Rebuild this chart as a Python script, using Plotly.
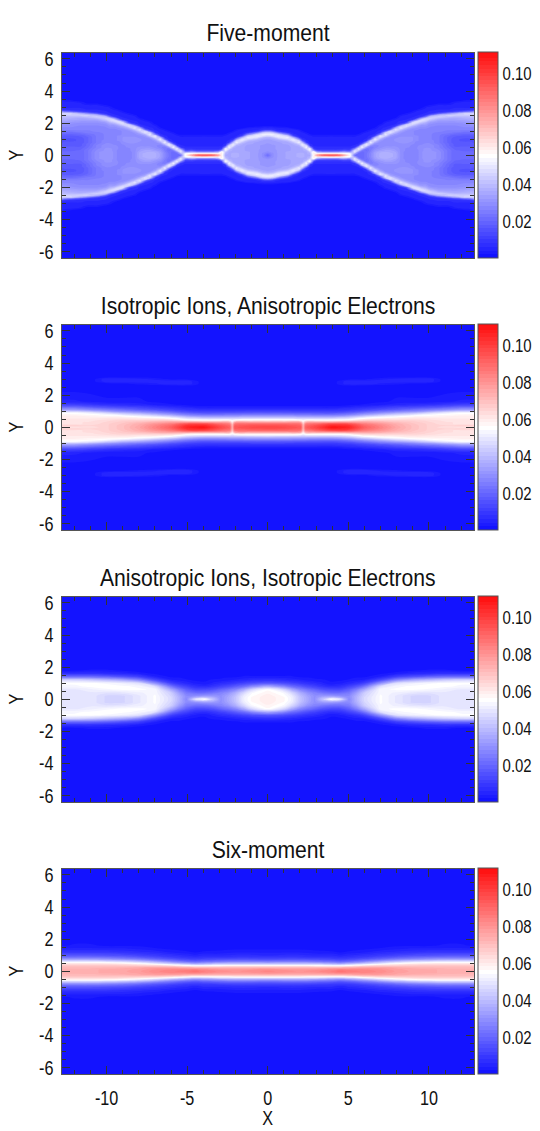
import plotly.graph_objects as go

W, H = 540, 1131
FONT = "Liberation Sans, Arial"
INK = "#111111"
TITLES = ["Five-moment", "Isotropic Ions, Anisotropic Electrons",
          "Anisotropic Ions, Isotropic Electrons", "Six-moment"]
TOPS = [52.5, 324.5, 596.5, 868.5]
PANEL_H = 205.5
CBAR_TICKS = [0.02, 0.04, 0.06, 0.08, 0.10]
X_TICKS = [-10, -5, 0, 5, 10]
Y_TICKS = [-6, -4, -2, 0, 2, 4, 6]

# Values in units of 0.001, one list per x station (x >= 0), from y = 0 upward; quadrant.
x1 = [0, .3, .65, 1.25, 1.6, 1.95, 2.15, 2.4, 2.62, 2.85, 3.05, 3.4, 3.9, 4.4, 4.7, 5.1, 5.4, 5.63, 5.85, 6.12, 6.38,
      6.65, 6.97, 7.3, 7.62, 7.92, 8.25, 8.62, 8.95, 9.2, 9.52, 9.8, 10.04, 10.6, 11.2, 11.6, 12.2, 12.6, 12.8]
y1 = [i / 10 for i in range(37)] + [6.4]
z1 = [
 [22,26,30,31,31,31,32,32,33,33,35,38,46,52,46,24,8,6,3,1],
 [30,30,31,31,32,32,32,33,33,34,36,40,49,52,42,20,8,6,3,1],
 [33,33,33,33,33,33,33,34,34,36,40,48,52,46,26,9,6,5,2,1],
 [35,35,35,34,34,34,34,35,36,40,47,52,44,24,9,6,6,4,1],
 [36,36,35,35,35,35,36,37,42,50,50,36,14,7,6,6,5,2,1],
 [37,37,36,36,36,36,38,44,52,46,28,10,6,6,6,5,3,1],
 [37,37,36,36,36,40,50,50,38,18,9,6,6,6,5,3,1],
 [36,36,36,38,46,54,46,26,10,7,6,6,6,5,3,1],
 [36,38,42,52,54,30,10,7,6,6,6,6,5,3,1],
 [58,60,58,30,12,8,6,6,6,6,6,5,4,2,1],
 [78,58,36,14,8,7,6,6,6,6,6,5,4,2,1],
 [92,58,28,12,8,7,6,6,6,6,6,5,4,2,1],
 [96,60,26,12,8,7,6,6,6,6,6,6,4,2,1],
 [92,58,28,12,8,7,6,6,6,6,6,5,4,2,1],
 [78,56,34,15,9,7,6,6,6,6,6,5,4,2,1],
 [58,54,30,14,9,7,6,6,6,6,6,5,4,2,1],
 [22,34,50,48,26,10,7,6,6,6,6,5,4,2,1],
 [21,22,28,44,52,34,12,7,6,6,6,6,5,3,1],
 [21,21,22,26,40,54,44,18,8,6,6,6,6,5,3,1],
 [24,24,23,22,24,34,50,50,28,9,7,6,6,6,5,3,1],
 [28,28,27,26,25,25,31,42,52,42,18,8,7,6,6,5,3,1],
 [34,34,33,31,29,27,27,30,36,46,52,36,12,7,6,6,5,3,1],
 [37,37,36,33,31,30,29,29,30,32,38,48,50,24,9,7,6,6,5,3,1],
 [38,38,37,35,33,31,30,30,29,29,30,34,44,51,44,18,8,7,6,6,5,3,1],
 [37,37,36,35,33,31,30,30,30,29,29,30,32,38,49,47,20,9,7,6,6,5,3,1],
 [36,36,35,33,32,31,30,30,30,31,31,30,30,32,38,44,50,35,12,7,6,6,5,3,1],
 [30,30,30,30,30,30,30,30,31,32,32,31,30,30,31,35,42,50,42,18,8,7,6,6,5,3,1],
 [27,27,27,28,28,29,30,30,31,32,32,31,30,29,29,30,33,39,48,46,18,8,7,6,6,5,3,1],
 [27,27,27,27,28,28,28,29,30,31,31,31,30,29,29,29,30,33,38,46,48,32,10,7,6,6,5,3,1],
 [27,27,27,27,28,28,28,28,28,29,29,29,29,28,28,28,29,31,34,40,47,47,26,9,7,6,6,5,3,1],
 [30,30,30,30,30,30,29,28,28,28,28,28,28,28,28,28,28,29,31,33,40,47,47,30,10,7,6,6,5,3,1],
 [32,32,32,31,31,30,30,29,28,28,28,28,28,28,28,28,28,29,31,33,36,42,47,44,22,9,7,6,6,5,4,2,1],
 [32,32,32,31,31,30,30,29,28,28,27,27,27,27,27,27,28,28,29,30,32,36,42,46,40,18,8,7,6,6,5,3,1],
 [30,30,30,29,28,27,27,26,25,25,25,25,25,25,26,27,27,28,28,29,30,32,35,40,45,38,16,8,7,6,6,5,3,1],
 [24,24,24,24,23,22,21,21,20,20,20,20,21,23,25,26,27,28,28,29,30,32,34,37,42,45,28,10,7,6,6,5,3,1],
 [21,21,21,21,20,19,18,18,17,17,17,18,19,21,24,26,27,28,28,29,30,32,34,36,40,45,36,14,8,7,6,6,5,4,1],
 [21,21,21,20,20,19,18,17,17,16,16,17,18,20,22,25,27,28,29,30,31,33,35,37,40,44,46,22,9,7,6,6,6,5,3,1],
 [21,21,21,20,20,19,18,17,17,16,16,17,18,20,22,25,27,28,29,31,32,34,36,38,40,44,47,26,10,7,6,6,6,5,4,2,1],
 [21,21,21,20,20,19,18,17,16,16,16,16,18,20,22,25,27,28,29,31,32,34,36,38,40,44,47,34,12,7,6,6,6,6,5,3,1],
]

x2 = [0, 1, 2.05, 2.2, 2.35, 3, 4, 5, 6, 7, 8, 9, 10, 11, 12, 12.8]
y2 = [0, .1, .2, .3, .4, .5, .6, .7, .8, .9, 1, 1.1, 1.2, 1.3, 1.4, 1.6, 2.55, 2.7, 2.85, 3, 3.15, 6.4]
z2 = [
 [98,96,90,78,62,52,42,32,24,17,12,8,5,3],
 [97,95,90,78,62,52,41,32,24,17,12,8,5,3],
 [94,92,87,76,60,50,40,31,23,16,11,8,5,3],
 [72,71,68,62,56,49,40,31,23,16,11,8,5,3],
 [92,90,85,74,60,50,40,31,23,16,11,8,5,3],
 [98,96,90,78,60,50,40,30,22,16,11,8,5,3],
 [110,105,98,78,60,50,40,30,22,15,11,8,5,3,1],
 [106,103,96,80,62,52,44,34,25,18,13,9,7,4,2,1,1,6,6,2,1],
 [92,90,86,78,68,60,52,42,32,24,17,12,9,6,3,1,1,6,6,2,1],
 [84,83,80,75,68,62,56,48,38,29,22,15,11,8,4,2,1,4,6,4,1],
 [76,75,74,71,67,62,58,52,44,34,25,18,14,10,6,3,1,3,6,5,1],
 [70,70,69,68,66,63,60,56,48,38,28,22,16,11,7,3,1,2,6,6,1],
 [66,66,66,65,64,62,60,57,53,44,33,25,18,13,8,3,1,1,6,6,1],
 [63,65,63,63,62,61,60,58,56,50,38,28,22,15,10,4],
 [62,66,62,62,62,61,60,59,57,54,42,32,25,18,12,5],
 [62,66,62,62,62,61,60,59,57,54,42,32,25,18,12,5],
]

x3 = [0, 1, 1.5, 2, 2.5, 2.9, 3.4, 3.9, 4.5, 5.05, 5.5, 6, 7, 8, 9, 10, 11, 12, 12.8]
y3 = [0, .1, .2, .4, .6, .8, 1, 1.2, 1.4, 1.6, 1.8, 2, 6.4]
z3 = [
 [60,60,60,58,56,36,16,8,3,1],
 [57,57,56,54,46,28,14,7,3,1],
 [52,52,51,46,36,22,12,6,3,1],
 [42,42,41,37,28,18,10,5,2,1],
 [35,35,34,30,23,14,8,4,2,1],
 [30,30,30,27,20,12,7,3,2,1],
 [42,38,32,24,16,9,5,3,1],
 [56,42,32,22,14,7,3,2,1],
 [50,38,30,22,14,8,4,2,1],
 [28,29,29,25,19,12,6,3,1],
 [38,38,37,33,26,16,8,4,2,1],
 [47,47,46,44,36,24,12,5,2,1],
 [55,55,55,54,54,48,30,14,5,2,1],
 [50,50,50,52,55,54,48,28,12,4,1],
 [46,46,46,50,55,55,52,36,16,6,2,1],
 [46,46,46,49,54,56,54,40,20,7,3,1],
 [50,50,50,50,52,55,55,44,22,8,3,1],
 [50,50,50,50,50,54,55,46,22,8,2,1],
 [50,50,50,50,50,54,55,46,22,8,2,1],
]

x4 = [0, 1, 2, 3, 4, 4.5, 5, 6, 7, 8, 9, 10, 11, 12, 12.8]
y4 = [0, .1, .2, .3, .4, .5, .6, .7, .8, .9, 1, 1.2, 1.4, 1.6, 2, 6.4]
z4 = [
 [83,82,75,64,50,36,25,17,12,9,6,4,2,1,1],
 [82,80,74,64,50,37,26,18,13,9,7,4,2,1,1],
 [80,79,74,64,50,37,26,18,13,9,7,4,2,1,1],
 [82,80,74,63,49,35,24,17,12,8,6,3,2,1,1],
 [85,83,75,62,46,32,22,15,11,8,6,3,1,1,1],
 [88,85,75,62,45,30,20,14,10,7,5,2,1,1,1],
 [86,84,76,64,48,33,22,15,11,8,6,3,1,1,1],
 [84,83,78,68,54,40,28,20,14,10,8,4,2,1,1],
 [82,81,78,70,60,47,35,25,18,13,10,6,3,1,1],
 [78,77,76,70,63,53,42,30,22,16,12,7,4,2,1],
 [76,76,74,70,65,57,46,34,25,19,14,8,5,2,1],
 [75,75,73,70,66,59,48,36,27,20,15,9,5,2,1],
 [74,74,72,70,66,60,50,38,28,21,16,9,5,3,1],
 [74,73,72,70,66,60,50,38,28,21,16,9,5,3,1],
 [74,73,72,70,66,60,50,38,28,21,16,9,5,2,1],
]

PANELS = [(x1, y1, z1), (x2, y2, z2), (x3, y3, z3), (x4, y4, z4)]
BLUE_RED = [[0, "rgb(15,15,255)"], [0.5, "rgb(255,255,255)"], [1, "rgb(255,15,15)"]]
ZMIN, ZMAX = 0.0005, 0.1116


def mirrored(xs, ys, cols):
    rows = []
    for j in range(len(ys)):
        half = [(c[j] if j < len(c) else 1) / 1000 for c in cols]
        rows.append(half[:0:-1] + half)
    rows = rows[:0:-1] + rows
    return [-v for v in xs[:0:-1]] + xs, [-v for v in ys[:0:-1]] + ys, rows


fig = go.Figure()
axis_line = "#555555"
tick_col = "#333333"
for i, (xs, ys, cols) in enumerate(PANELS):
    n = "" if i == 0 else str(i + 1)
    X, Y, Z = mirrored(xs, ys, cols)
    top, bot = 1 - TOPS[i] / H, 1 - (TOPS[i] + PANEL_H) / H
    fig.add_trace(go.Contour(
        x=X, y=Y, z=Z, xaxis="x" + n, yaxis="y" + n,
        colorscale=BLUE_RED, zmin=ZMIN, zmax=ZMAX, autocontour=False,
        contours=dict(start=ZMIN, end=ZMAX, size=0.002, coloring="fill", showlines=False),
        line=dict(width=0, smoothing=1.0),
        colorbar=dict(x=478 / W, xanchor="left", xpad=0, y=(top + bot) / 2, yanchor="middle", ypad=0,
                      len=PANEL_H / H, lenmode="fraction", thickness=20, thicknessmode="pixels",
                      tickmode="array", tickvals=CBAR_TICKS, ticktext=["%.2f" % t for t in CBAR_TICKS],
                      ticks="", outlinecolor=axis_line, outlinewidth=1, borderwidth=0,
                      tickfont=dict(family=FONT, size=18, color=INK)),
    ))
    fig.update_layout({
        "xaxis" + n: dict(domain=[61.5 / W, 474 / W], range=[-12.8, 12.8], anchor="y" + n,
                          tickmode="array", tickvals=X_TICKS, ticktext=[str(v) for v in X_TICKS],
                          ticks="inside", ticklen=8, tickcolor=tick_col, showgrid=False,
                          zeroline=False, showline=True, linecolor=axis_line, linewidth=1, mirror="ticks",
                          showticklabels=i == 3, ticklabelstandoff=6, tickfont=dict(family=FONT, size=20, color=INK),
                          minor=dict(dtick=1, ticks="inside", ticklen=4, tickcolor=tick_col, showgrid=False)),
        "yaxis" + n: dict(domain=[bot, top], range=[-6.4, 6.4], anchor="x" + n,
                          tickmode="array", tickvals=Y_TICKS, ticktext=[str(v) for v in Y_TICKS],
                          ticks="inside", ticklen=8, tickcolor=tick_col, showgrid=False,
                          zeroline=False, showline=True, linecolor=axis_line, linewidth=1, mirror="ticks",
                          ticklabelstandoff=3, tickfont=dict(family=FONT, size=20, color=INK),
                          minor=dict(dtick=.5, ticks="inside", ticklen=4, tickcolor=tick_col, showgrid=False)),
    })
    fig.add_annotation(text=TITLES[i], xref="paper", yref="paper", x=267.5 / W, y=1 - (TOPS[i] - 19.5) / H,
                       xanchor="center", yanchor="middle", showarrow=False,
                       font=dict(family=FONT, size=24, color=INK))
    fig.add_annotation(text="Y", xref="paper", yref="paper", x=16.5 / W, y=(top + bot) / 2, textangle=-90,
                       xanchor="center", yanchor="middle", showarrow=False,
                       font=dict(family=FONT, size=20, color=INK))

fig.add_annotation(text="X", xref="paper", yref="paper", x=267.5 / W, y=1 - 1118 / H,
                   xanchor="center", yanchor="middle", showarrow=False, font=dict(family=FONT, size=20, color=INK))
fig.update_layout(width=W, height=H, margin=dict(l=0, r=0, t=0, b=0, autoexpand=False), plot_bgcolor="white",
                  paper_bgcolor="white", showlegend=False)
CONDENSE = """
document.body.style.margin = '0';
document.querySelectorAll('svg text').forEach(function (t) {
  if (!t.textContent.trim()) return;
  var s = parseFloat(getComputedStyle(t).fontSize);
  var k = s >= 22 ? 0.88 : (s < 19 ? 0.83 : 0.81);
  t.setAttribute('lengthAdjust', 'spacingAndGlyphs');
  t.setAttribute('textLength', t.getComputedTextLength() * k);
});
"""
fig.write_html("out.html", post_script=CONDENSE, config={"displayModeBar": False})
